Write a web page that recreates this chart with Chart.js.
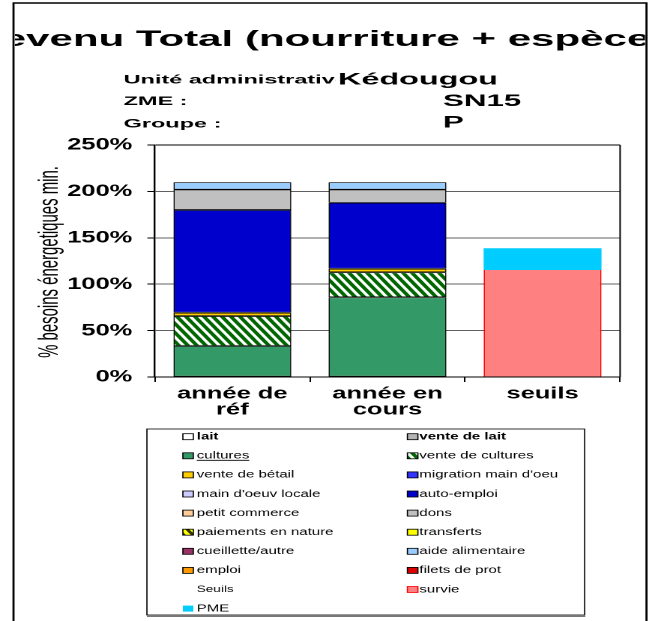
<!DOCTYPE html>
<html>
<head>
<meta charset="utf-8">
<script src="https://cdn.jsdelivr.net/npm/chart.js@4"></script>
<style>
html, body { margin: 0; padding: 0; background: #fff; overflow: hidden; }
/* the original picture is stretched sideways, so the whole canvas is too */
#wrap { width: 439px; height: 621px; transform: scaleX(1.4989); transform-origin: 0 0; }
</style>
</head>
<body>
<div id="wrap"><canvas id="myChart" width="439" height="621"></canvas></div>
<script>
// values, % of minimum energy needs
var categories = [['année de', 'réf'], ['année en', 'cours'], 'seuils'];
var lait = [0, 0, 0];
var venteLait = [0, 0, 0];
var cultures = [33.4, 85.9, 0];
var venteCultures = [32.3, 26.9, 0];
var venteBetail = [3.6, 3.9, 0];
var migration = [0, 0, 0];
var mainOeuvLocale = [0, 0, 0];
var autoEmploi = [110.7, 71.1, 0];
var petitCommerce = [0, 0, 0];
var dons = [22.0, 14.2, 0];
var paiementsNature = [0, 0, 0];
var transferts = [0, 0, 0];
var cueillette = [0, 0, 0];
var aideAlimentaire = [7.8, 7.8, 0];
var emploi = [0, 0, 0];
var filets = [0, 0, 0];
var survie = [0, 0, 115.3];
var pme = [0, 0, 23.4];
var yTicks = [0, 50, 100, 150, 200, 250];

var FONT = "'Liberation Sans', Arial, sans-serif";
Chart.defaults.font.family = FONT;
Chart.defaults.color = '#000';

// diagonal hatch, tile drawn at 2x and scaled back
function hatch(bg, fg) {
    var c = document.createElement('canvas');
    c.width = 12; c.height = 18;
    var g = c.getContext('2d');
    g.fillStyle = bg;
    g.fillRect(0, 0, 12, 18);
    g.strokeStyle = fg;
    g.lineWidth = 4.5;
    for (var k = -1; k <= 1; k++) {
        g.beginPath();
        g.moveTo(k * 12 - 6, -9);
        g.lineTo(k * 12 + 18, 27);
        g.stroke();
    }
    var p = g.createPattern(c, 'repeat');
    p.setTransform(new DOMMatrix().scale(0.5));
    return p;
}

var series = [
    { label: 'lait', data: lait, color: '#FFFFFF', bold: true },
    { label: 'vente de lait', data: venteLait, color: '#B4B4B4', bold: true },
    { label: 'cultures', data: cultures, color: '#339966', underline: true },
    { label: 'vente de cultures', data: venteCultures, color: hatch('#006600', '#FFFFFF') },
    { label: 'vente de bétail', data: venteBetail, color: '#FFCC00' },
    { label: "migration main d'oeu", data: migration, color: '#3333FF' },
    { label: "main d'oeuv locale", data: mainOeuvLocale, color: '#CCCCFF' },
    { label: 'auto-emploi', data: autoEmploi, color: '#0000CC' },
    { label: 'petit commerce', data: petitCommerce, color: '#FFCC99' },
    { label: 'dons', data: dons, color: '#C0C0C0' },
    { label: 'paiements en nature', data: paiementsNature, color: hatch('#FFFF00', '#333300') },
    { label: 'transferts', data: transferts, color: '#FFFF00' },
    { label: 'cueillette/autre', data: cueillette, color: '#993366' },
    { label: 'aide alimentaire', data: aideAlimentaire, color: '#99CCFF' },
    { label: 'emploi', data: emploi, color: '#FF9900' },
    { label: 'filets de prot', data: filets, color: '#DD0000' },
    { label: 'Seuils', data: [0, 0, 0], color: 'rgba(0,0,0,0)', noBox: true },
    { label: 'survie', data: survie, color: '#FF8080', border: '#FF0000' },
    { label: 'PME', data: pme, color: '#00CCFF', border: null }
];

var datasets = series.map(function(s) {
    return {
        label: s.label,
        data: s.data.map(function(v) { return v === 0 ? null : v; }),
        backgroundColor: s.color,
        borderColor: s.border === undefined ? '#000' : (s.border || 'rgba(0,0,0,0)'),
        borderWidth: s.border === null ? 0 : (s.border ? { left: 1, right: 1, top: 0, bottom: 0 } : 0.8),
        borderSkipped: false,
        bold: s.bold, underline: s.underline, noBox: s.noBox, legendBorder: s.border
    };
});

function stretchText(ctx, text, x, y, size, sx, align) {
    ctx.save();
    ctx.translate(x, y);
    ctx.scale(sx, 1);
    ctx.font = 'bold ' + size + 'px ' + FONT;
    ctx.textAlign = align || 'left';
    ctx.textBaseline = 'alphabetic';
    ctx.fillStyle = '#000';
    ctx.fillText(text, 0, 0);
    ctx.restore();
}

// frame, titles, plot border, narrow y title
var decor = {
    id: 'decor',
    afterDraw: function(chart) {
        var ctx = chart.ctx, a = chart.chartArea;
        var fl = 9, fr = 431.3;
        ctx.save();
        ctx.strokeStyle = '#000';
        ctx.lineWidth = 1;
        ctx.beginPath();
        ctx.moveTo(a.right, a.top);
        ctx.lineTo(a.right, a.bottom);
        ctx.stroke();

        ctx.lineWidth = 1.4;
        ctx.beginPath();
        ctx.moveTo(fl, 625);
        ctx.lineTo(fl, 3);
        ctx.lineTo(fr, 3);
        ctx.lineTo(fr, 625);
        ctx.stroke();

        ctx.save();
        ctx.beginPath();
        ctx.rect(fl + 1, 0, fr - fl - 2, 70);
        ctx.clip();
        stretchText(ctx, 'Revenu Total (nourriture + espèces)', (fl + fr) / 2, 46, 22, 1.275, 'center');
        ctx.restore();

        ctx.save();
        ctx.beginPath();
        ctx.rect(0, 60, 224, 40);
        ctx.clip();
        stretchText(ctx, 'Unité administrative', 82.5, 83.5, 11.5, 1.36);
        ctx.restore();
        stretchText(ctx, 'ZME :', 82.5, 105, 11.5, 1.36);
        stretchText(ctx, 'Groupe :', 82.5, 127.5, 11.5, 1.36);
        stretchText(ctx, 'Kédougou', 225.5, 84.5, 17, 1.27);
        stretchText(ctx, 'SN15', 295.5, 106, 17, 1.23);
        stretchText(ctx, 'P', 295.5, 127.5, 17, 1.23);

        // y axis title, condensed along its length like the original
        ctx.save();
        ctx.translate(33.5, 262);
        ctx.rotate(-Math.PI / 2);
        ctx.scale(0.83, 1);
        ctx.font = '18px ' + FONT;
        ctx.textAlign = 'center';
        ctx.textBaseline = 'middle';
        ctx.fillStyle = '#000';
        ctx.fillText('% besoins énergetiques min.', 0, 0);
        ctx.restore();
        ctx.restore();
    }
};

// two-column legend in the box under the chart
var legendBox = {
    id: 'legendBox',
    afterDraw: function(chart) {
        var ctx = chart.ctx;
        ctx.save();
        ctx.strokeStyle = '#000';
        ctx.lineWidth = 0.8;
        ctx.strokeRect(98, 429, 292, 186);
        ctx.strokeStyle = '#777';
        ctx.lineWidth = 2;
        ctx.beginPath();
        ctx.moveTo(98, 616);
        ctx.lineTo(390.5, 616);
        ctx.stroke();
        chart.data.datasets.forEach(function(ds, i) {
            var col = i % 2, row = Math.floor(i / 2);
            var y = 436.7 + row * 19.1;
            var mx = col ? 271.8 : 122;
            var tx = col ? 279.8 : 131.3;
            if (!ds.noBox) {
                ctx.fillStyle = ds.backgroundColor;
                ctx.fillRect(mx, y - 3, 7, 6);
                if (ds.legendBorder !== null) {
                    ctx.strokeStyle = ds.legendBorder || '#000';
                    ctx.lineWidth = 0.8;
                    ctx.strokeRect(mx, y - 3, 7, 6);
                }
            }
            ctx.fillStyle = '#000';
            ctx.font = (ds.bold ? 'bold ' : '') + (ds.noBox ? 9 : 10) + 'px ' + FONT;
            ctx.textAlign = 'left';
            ctx.textBaseline = 'middle';
            ctx.fillText(ds.label, tx, y);
            if (ds.underline) {
                var w = ctx.measureText(ds.label).width;
                ctx.lineWidth = 0.8;
                ctx.strokeStyle = '#000';
                ctx.beginPath();
                ctx.moveTo(tx, y + 4.5);
                ctx.lineTo(tx + w, y + 4.5);
                ctx.stroke();
            }
        });
        ctx.restore();
    }
};

var ctx = document.getElementById('myChart').getContext('2d');
var myChart = new Chart(ctx, {
    type: 'bar',
    data: { labels: categories, datasets: datasets },
    options: {
        responsive: false,
        animation: false,
        devicePixelRatio: 2,
        layout: { padding: { left: 0, right: 25.3, top: 145, bottom: 194 } },
        datasets: { bar: { categoryPercentage: 1, barPercentage: 0.76 } },
        plugins: {
            legend: { display: false },
            tooltip: { enabled: false }
        },
        scales: {
            x: {
                stacked: true,
                grid: { drawOnChartArea: false, tickLength: 5, tickColor: '#000', offset: true },
                border: { color: '#000', width: 1 },
                ticks: {
                    color: '#000', padding: 4, maxRotation: 0, autoSkip: false,
                    font: { size: 17, weight: 'bold', lineHeight: '16px' }
                },
                afterFit: function(s) { s.height = 50; }
            },
            y: {
                stacked: true,
                min: 0,
                max: 250,
                afterBuildTicks: function(s) {
                    s.ticks = yTicks.map(function(v) { return { value: v }; });
                },
                grid: {
                    color: function(c) { return c.tick && c.tick.value === 250 ? '#000' : '#606060'; },
                    tickColor: '#000',
                    tickLength: 5
                },
                border: { color: '#000', width: 1.2 },
                ticks: {
                    color: '#000', padding: 10,
                    font: { size: 17, weight: 'bold' },
                    callback: function(v) { return v + '%'; }
                },
                afterFit: function(s) { s.width = 103.3; }
            }
        }
    },
    plugins: [decor, legendBox]
});
</script>
</body>
</html>
